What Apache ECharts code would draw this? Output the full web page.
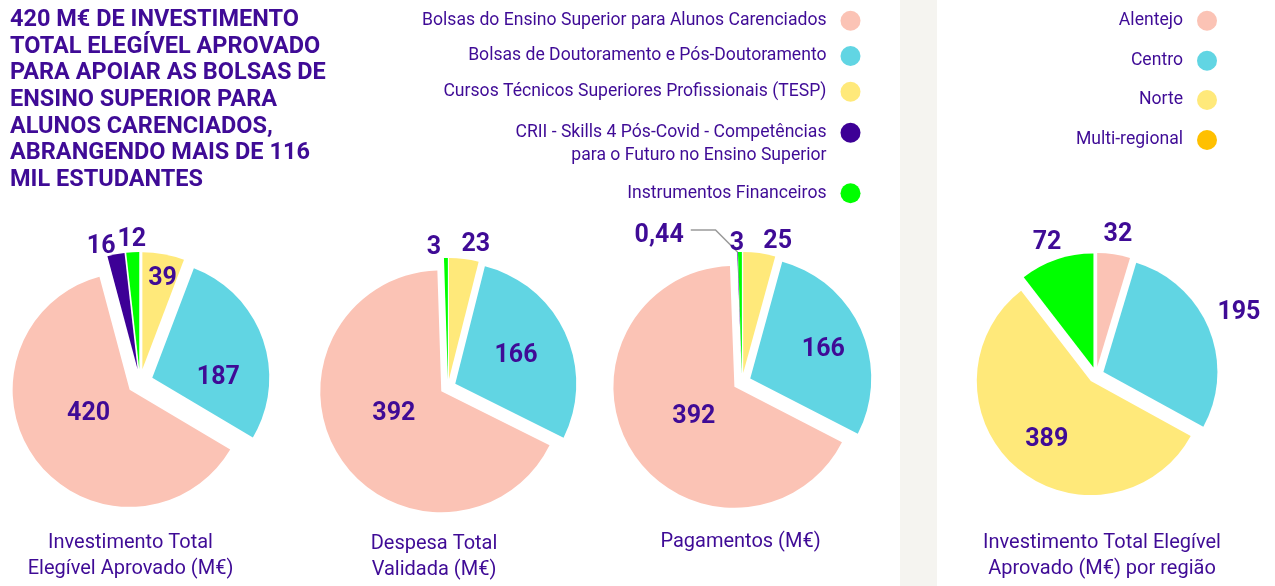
<!DOCTYPE html>
<html>
<head>
<meta charset="utf-8">
<script src="https://cdn.jsdelivr.net/npm/echarts@6/dist/echarts.min.js"></script>
<style>
  html, body { margin: 0; padding: 0; background: #fff; }
  #main { width: 1275px; height: 586px; }
</style>
</head>
<body>
<div id="main"></div>
<script>
// categorias pela ordem da legenda
var categorias = [
  'Bolsas do Ensino Superior para Alunos Carenciados',
  'Bolsas de Doutoramento e Pós-Doutoramento',
  'Cursos Técnicos Superiores Profissionais (TESP)',
  'CRII - Skills 4 Pós-Covid - Competências para o Futuro no Ensino Superior',
  'Instrumentos Financeiros'
];
var investimento = [420, 187, 39, 16, 12];
var despesa = [392, 166, 23, null, 3];
var pagamentos = [392, 166, 25, 0.44, 3];

var regioes = ['Alentejo', 'Centro', 'Norte', 'Multi-regional'];
var investRegiao = [32, 195, 389, 72];

var cores = ['#fbc3b5', '#61d5e3', '#ffe97a', '#3d0096', '#00ff00'];
var coresRegiao = ['#fbc3b5', '#61d5e3', '#ffe97a', '#00ff00'];
var corLegendaMulti = '#ffc000';

// ordem de desenho (sentido horário a partir do topo)
var ordemCat = [2, 1, 0, 3, 4];
var ordemReg = [0, 1, 2, 3];

var txt = '#3f0b96';
var fonte = 'Roboto';

function fmt(p) {
  return String(p.value).replace('.', ',');
}

function pie(values, names, colors, order, center, radius, offset, nudges, extra) {
  var data = [];
  var idx = [];
  order.forEach(function (i) {
    if (values[i] == null) return;
    var item = { name: names[i], value: values[i], selected: true, itemStyle: { color: colors[i] } };
    if (extra && extra[i]) {
      for (var k in extra[i]) item[k] = extra[i][k];
    }
    data.push(item);
    idx.push(i);
  });
  return {
    type: 'pie',
    center: center,
    radius: radius,
    startAngle: 90,
    clockwise: true,
    selectedMode: 'multiple',
    selectedOffset: offset,
    avoidLabelOverlap: false,
    animation: false,
    label: {
      position: 'inside', formatter: fmt, color: txt, fontFamily: fonte,
      fontWeight: 'bold', fontSize: 25, textBorderWidth: 0
    },
    labelLine: { show: false },
    labelLayout: function (p) {
      var n = nudges[idx[p.dataIndex]];
      if (!n) return null;
      return { dx: n[0], dy: n[1] };
    },
    emphasis: { disabled: true },
    data: data
  };
}

var series = [
  pie(investimento, categorias, cores, ordemCat, [140, 382], 117, 13,
    { 0: [8, -13], 1: [8, 20], 2: [9, -30], 3: [-25, -62], 4: [-4, -68] }),
  pie(despesa, categorias, cores, ordemCat, [448, 387], 121, 8,
    { 0: [6, -12], 1: [3, -1], 2: [19, -71], 4: [-13, -68] }),
  pie(pagamentos, categorias, cores, ordemCat, [742, 382], 121, 9,
    { 0: [13, -4], 1: [15, -3], 2: [26, -68], 3: [-2, 6], 4: [-4, -66] },
    { 3: {
      label: { position: 'outside' },
      labelLine: {
        show: true, length: 22, length2: 46, minTurnAngle: 135,
        lineStyle: { color: '#9a9a9a', width: 1.5 }
      }
    } }),
  pie(investRegiao, regioes, coresRegiao, ordemReg, [1096, 375], 114, 8,
    { 0: [12, -73], 1: [80, -37], 2: [-5, 13], 3: [-27, -68] })
];

// legendas, uma por item
var lh = 23;
var topoCat = [20.7, 56, 91.7, 132.7, 193.3];
var topoReg = [20.7, 60.7, 100, 140];

function legenda(name, right, cy, opts) {
  var item = { name: name };
  var top = cy - lh / 2;
  if (opts && opts.color) item.itemStyle = { color: opts.color };
  if (opts && opts.twoLines) top = cy - lh * 1.5;
  return {
    orient: 'vertical', align: 'right', right: right, top: top, padding: 0,
    icon: 'circle', itemWidth: 38, itemHeight: 20, selectedMode: false,
    textStyle: { color: txt, fontFamily: fonte, fontSize: 17.6, lineHeight: lh },
    formatter: function (n) {
      // linha vazia em cima para o círculo ficar alinhado com a 1.ª linha
      return n.indexOf('Competências para') > -1
        ? '\n' + n.replace('Competências para', 'Competências\npara') : n;
    },
    data: [item]
  };
}

var legends = [];
categorias.forEach(function (c, i) {
  legends.push(legenda(c, 414.5, topoCat[i], { twoLines: i === 3 }));
});
regioes.forEach(function (r, i) {
  legends.push(legenda(r, 58, topoReg[i], { color: i === 3 ? corLegendaMulti : null }));
});

var subTitulo = {
  textAlign: 'center', padding: 0,
  textStyle: { color: txt, fontFamily: fonte, fontSize: 20, fontWeight: 'normal', lineHeight: 26 }
};
function sub(text, x, top) {
  return Object.assign({}, subTitulo, { text: text, left: x, top: top });
}

var chart = echarts.init(document.getElementById('main'), null, { renderer: 'canvas' });
chart.setOption({
  backgroundColor: '#ffffff',
  animation: false,
  graphic: [{
    type: 'rect', z: -10, shape: { x: 900, y: 0, width: 37, height: 586 },
    style: { fill: '#f5f4f0' }, silent: true
  }],
  title: [
    {
      text: '420 M€ DE INVESTIMENTO\nTOTAL ELEGÍVEL APROVADO\nPARA APOIAR AS BOLSAS DE\nENSINO SUPERIOR PARA\nALUNOS CARENCIADOS,\nABRANGENDO MAIS DE 116\nMIL ESTUDANTES',
      left: 10, top: 6.7, padding: 0,
      textStyle: { color: txt, fontFamily: fonte, fontSize: 23.5, fontWeight: 'bold', lineHeight: 26.7 }
    },
    sub('Investimento Total\nElegível Aprovado (M€)', 130.5, 530),
    sub('Despesa Total\nValidada (M€)', 434, 531),
    sub('Pagamentos (M€)', 740.5, 529),
    sub('Investimento Total Elegível\nAprovado (M€) por região', 1102, 530)
  ],
  legend: legends,
  series: series
});
</script>
</body>
</html>
